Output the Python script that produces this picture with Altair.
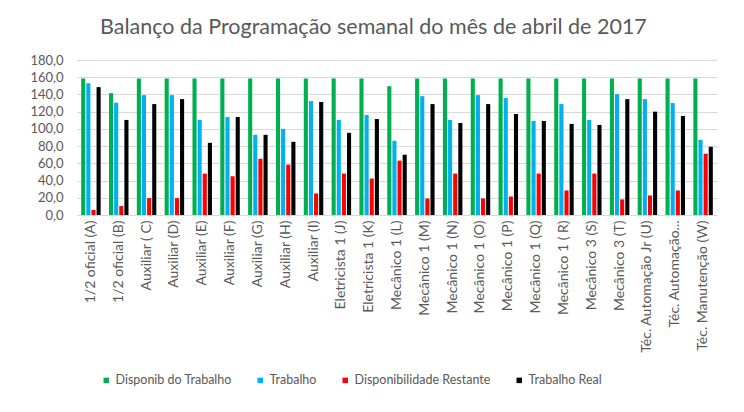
import altair as alt
import pandas as pd

categories = [
    "1/2 oficial (A)", "1/2 oficial (B)", "Auxiliar ( C)", "Auxiliar (D)", "Auxiliar (E)",
    "Auxiliar (F)", "Auxiliar (G)", "Auxiliar (H)", "Auxiliar (I)", "Eletricista 1 (J)",
    "Eletricista 1 (K)", "Mecânico 1 (L)", "Mecânico 1 (M)", "Mecânico 1 (N)", "Mecânico 1 (O)",
    "Mecânico 1 (P)", "Mecânico 1 (Q)", "Mecânico 1 ( R)", "Mecânico 3 (S)", "Mecânico 3 (T)",
    "Téc. Automação Jr (U)", "Téc. Automação...", "Téc. Manutenção (W)",
]
disponib = [158.4, 141.5, 158.4, 158.4, 158.4, 158.4, 158.4, 158.4, 158.4, 158.4, 158.4, 149.6,
            158.4, 158.4, 158.4, 158.4, 158.4, 158.4, 158.4, 158.4, 158.4, 158.4, 158.4]
trabalho = [153.0, 130.4, 139.2, 139.2, 110.4, 113.8, 93.1, 100.0, 132.3, 110.4, 116.2, 86.2,
            138.0, 110.4, 139.2, 135.8, 109.2, 128.8, 110.4, 140.4, 134.6, 130.0, 87.3]
restante = [5.8, 10.4, 19.6, 19.6, 48.1, 45.0, 65.4, 58.5, 25.0, 48.1, 42.3, 63.1,
            19.2, 48.1, 19.2, 21.5, 48.1, 28.5, 48.1, 18.1, 22.7, 28.5, 71.2]
real = [148.5, 110.4, 128.8, 134.6, 83.8, 113.8, 93.1, 85.0, 131.2, 95.4, 111.5, 70.0,
        128.8, 106.9, 128.8, 117.3, 109.2, 105.8, 104.6, 134.6, 120.0, 115.0, 79.2]

series = ["Disponib do Trabalho", "Trabalho", "Disponibilidade Restante", "Trabalho Real"]
colors = ["#00B050", "#00B0F0", "#FF0000", "#000000"]

rows = []
for s, vals in zip(series, [disponib, trabalho, restante, real]):
    for c, v in zip(categories, vals):
        rows.append({"cat": c, "serie": s, "valor": v})
df = pd.DataFrame(rows)

FONT = "Lato"
GRAY = "#595959"

chart = alt.Chart(df).mark_bar().encode(
    x=alt.X("cat:N", sort=categories, title=None,
            scale=alt.Scale(paddingInner=0.3, paddingOuter=0.15),
            axis=alt.Axis(labelAngle=270, labelFont=FONT, labelFontSize=14, labelColor=GRAY,
                          ticks=False, domainColor="#D9D9D9", labelPadding=5, labelLimit=140)),
    xOffset=alt.XOffset("serie:N", sort=series, scale=alt.Scale(paddingInner=0.2)),
    y=alt.Y("valor:Q", title=None, scale=alt.Scale(domain=[0, 180]),
            axis=alt.Axis(values=list(range(0, 181, 20)),
                          labelExpr="replace(format(datum.value, '.1f'), '.', ',')",
                          labelFont=FONT, labelFontSize=13, labelColor=GRAY, ticks=False,
                          domain=False, gridColor="#D9D9D9", labelPadding=14)),
    color=alt.Color("serie:N", sort=series,
                    scale=alt.Scale(domain=series, range=colors),
                    legend=alt.Legend(orient="none", legendX=23, legendY=314,
                                      title=None, direction="horizontal",
                                      symbolType="square", symbolSize=30, symbolStrokeWidth=0,
                                      labelOffset=3,
                                      labelFont=FONT, labelFontSize=12.5, labelColor=GRAY,
                                      columnPadding=22)),
).properties(
    width=640, height=155,
    title=alt.TitleParams("Balanço da Programação semanal do mês de abril de 2017",
                          font=FONT, fontSize=21.5, fontWeight="normal", color=GRAY,
                          anchor="middle", frame="bounds", offset=16),
    padding={"left": 21, "top": 8, "right": 10, "bottom": 5},
).configure_view(stroke=None)

chart.save("out.html", embed_options={"renderer": "svg", "actions": False})
